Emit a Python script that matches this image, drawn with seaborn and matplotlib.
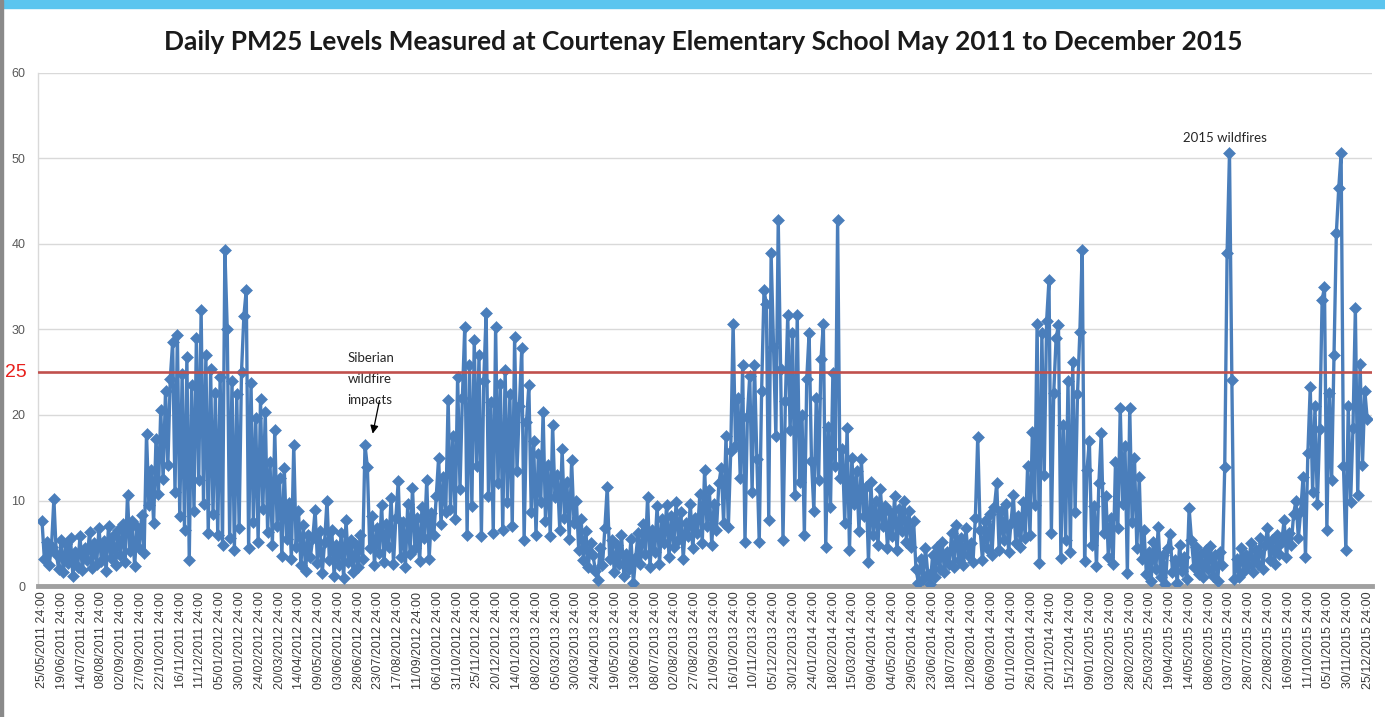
import numpy as np
import pandas as pd
import matplotlib
matplotlib.use("Agg")
import matplotlib.pyplot as plt
from matplotlib.patches import Rectangle
import seaborn as sns

# Daily PM2.5 readings (ug/m3), one reading every third day starting 25/05/2011
first_day = "2011-05-25"
step_days = 3

pm25_2011 = [
    7.6, 3.1, 5.2, 2.4, 4.6, 10.2, 3.8, 2.0, 5.4, 1.6,
    4.9, 2.7, 5.6, 1.2, 4.0, 2.2, 5.8, 1.9, 4.4, 3.0,
    6.3, 2.1, 5.0, 2.6, 6.8, 2.9, 5.3, 1.8, 7.0, 3.3,
    5.9, 2.4, 6.5, 3.6, 7.2, 2.8, 10.6, 4.1, 7.6, 2.3,
    6.9, 4.5, 8.3, 3.9, 17.8, 9.5, 13.6, 7.4, 17.2, 10.8,
    20.6, 12.5, 22.8, 14.1, 24.2, 28.5, 11.0, 29.3, 8.2, 24.8,
    6.5, 26.8, 3.0, 23.5, 8.8, 29.0, 12.4, 32.3, 9.6, 27.0,
    6.2, 25.4, 8.4, 22.6,
]
pm25_2012 = [
    6.0, 24.5, 4.8, 39.3, 30.0, 5.6, 24.0, 4.2, 22.5, 6.8,
    25.0, 31.6, 34.6, 4.4, 23.8, 7.5, 19.6, 5.2, 21.9, 9.0,
    20.4, 6.3, 14.5, 4.8, 18.2, 7.0, 12.6, 3.5, 13.8, 5.5,
    9.7, 3.2, 16.5, 4.6, 8.8, 2.4, 7.1, 1.8, 6.0, 3.4,
    5.6, 8.9, 2.7, 6.4, 1.5, 5.2, 10.0, 3.0, 6.6, 1.2,
    4.8, 2.5, 6.2, 0.9, 7.7, 2.8, 5.4, 1.6, 4.9, 2.2,
    6.0, 3.1, 16.5, 13.9, 4.4, 8.2, 2.5, 6.8, 3.9, 9.5,
    2.8, 7.2, 4.6, 10.3, 2.6, 8.0, 12.3, 3.4, 7.5, 2.2,
    9.6, 3.8, 11.5, 4.5, 7.9, 2.9, 9.2, 5.6, 12.4, 3.1,
    8.5, 6.0, 10.5, 15.0, 7.2, 12.8, 8.6, 21.8, 9.0, 17.5,
    7.8, 24.5, 11.4, 22.0, 30.3, 6.0, 25.8, 9.4, 28.8, 14.0,
    27.0, 5.8, 24.0, 31.9, 10.5, 21.5, 6.2, 30.3, 12.0, 23.6,
    6.5, 25.3,
]
pm25_2013 = [
    9.8, 22.4, 7.0, 29.1, 13.5, 21.0, 27.8, 5.4, 19.2, 23.5,
    8.6, 17.0, 6.0, 15.4, 9.8, 20.4, 7.6, 14.2, 5.8, 18.8,
    10.4, 13.0, 6.6, 16.0, 8.0, 12.2, 5.5, 14.7, 7.4, 10.0,
    4.2, 7.8, 3.0, 6.4, 2.2, 5.0, 3.6, 1.8, 0.7, 4.5,
    2.4, 6.8, 11.6, 3.2, 5.4, 1.6, 4.8, 2.6, 6.0, 1.2,
    3.8, 2.0, 5.5, 0.3, 3.4, 6.2, 2.6, 7.2, 3.8, 10.4,
    2.2, 6.6, 4.0, 9.4, 2.6, 7.8, 5.0, 9.5, 3.4, 8.2,
    4.6, 9.8, 5.4, 8.6, 3.2, 7.4, 5.8, 9.6, 4.4, 8.0,
    6.2, 10.8, 5.0, 13.6, 7.0, 11.2, 4.8, 9.6, 6.6, 12.0,
    13.8, 7.4, 17.5, 6.9, 15.8, 30.7, 16.4, 22.0, 12.6, 25.8,
    5.1, 19.8, 24.6, 11.0, 25.9, 14.8, 5.1, 22.8, 34.6, 33.0,
    7.7, 38.9, 28.0, 17.5, 42.8, 25.4, 5.4, 21.6, 31.7, 18.2,
    29.6, 10.6,
]
pm25_2014 = [
    31.7, 12.2, 20.0, 6.0, 24.2, 29.6, 14.6, 8.8, 22.0, 12.4,
    26.5, 30.7, 4.6, 18.6, 9.2, 24.9, 14.0, 42.8, 12.6, 16.0,
    7.4, 18.5, 4.2, 15.0, 9.6, 13.4, 6.4, 14.8, 8.2, 11.6,
    2.8, 12.2, 6.0, 10.0, 4.8, 11.4, 7.0, 9.4, 4.4, 8.6,
    5.8, 10.5, 4.2, 9.0, 6.4, 10.0, 5.2, 8.8, 4.6, 7.6,
    2.0, 0.4, 3.2, 0.8, 4.4, 1.4, 0.2, 3.6, 1.0, 4.6,
    2.0, 5.2, 1.6, 4.0, 2.6, 6.2, 2.2, 7.1, 3.0, 5.6,
    2.4, 6.8, 3.6, 5.0, 2.8, 8.0, 17.4, 6.6, 3.0, 7.6,
    4.4, 8.4, 3.6, 9.2, 12.0, 4.2, 8.8, 5.4, 9.6, 4.0,
    7.4, 10.6, 5.0, 8.2, 4.6, 9.8, 5.6, 14.0, 6.0, 18.0,
    9.5, 30.7, 2.7, 29.6, 13.0, 31.0, 35.8, 6.2, 22.6, 29.0,
    30.5, 3.3, 18.8, 5.4, 24.0, 4.0, 26.2, 8.6, 22.4, 29.7,
    39.3,
]
pm25_2015 = [
    2.9, 13.6, 17.0, 4.8, 9.4, 2.3, 12.0, 17.9, 6.2, 10.5,
    3.4, 8.0, 2.6, 14.5, 6.8, 20.8, 9.6, 16.4, 1.5, 20.8,
    7.5, 15.0, 4.4, 12.8, 3.2, 6.6, 1.4, 4.0, 0.6, 5.2,
    2.0, 6.9, 1.0, 3.6, 0.2, 4.4, 6.1, 1.6, 3.0, 0.4,
    4.8, 1.8, 3.4, 0.8, 9.1, 5.4, 2.2, 4.6, 1.4, 3.8,
    1.0, 4.2, 2.0, 4.7, 1.2, 3.6, 0.6, 4.0, 2.4, 13.9,
    39.0, 50.6, 24.1, 0.8, 3.2, 1.0, 4.4, 1.8, 3.6, 2.4,
    5.0, 1.6, 4.2, 2.6, 5.6, 2.0, 4.8, 6.8, 3.0, 5.4,
    2.6, 6.0, 3.8, 5.2, 7.7, 3.4, 6.2, 4.8, 8.4, 10.0,
    5.6, 8.8, 12.8, 3.4, 15.5, 23.3, 11.0, 21.0, 9.6, 18.4,
    33.4, 35.0, 6.5, 22.6, 12.4, 27.0, 41.3, 46.5, 50.6, 14.0,
    4.2, 21.0, 9.8, 18.5, 32.5, 10.6, 26.0, 14.2, 22.8, 19.5,
]

objective_level = 25
tick_every_days = 25
last_tick = "2015-12-25"
y_ticks = [0, 10, 20, 30, 40, 50, 60]

title = ("Daily PM25 Levels Measured at Courtenay Elementary School "
         "May 2011 to December 2015")
siberian_note = "Siberian\nwildfire\nimpacts"
wildfire_note = "2015 wildfires"

# ---------------------------------------------------------------- data frame
values = pm25_2011 + pm25_2012 + pm25_2013 + pm25_2014 + pm25_2015
start = pd.Timestamp(first_day)
dates = start + pd.to_timedelta(np.arange(len(values)) * step_days, unit="D")
df = pd.DataFrame({"date": dates, "pm25": values})

# ---------------------------------------------------------------- styling
sns.set_theme(style="white")
plt.rcParams["font.family"] = ["Lato", "DejaVu Sans"]

blue = "#4a7ebb"
fig = plt.figure(figsize=(13.85, 7.17), dpi=100)
ax = fig.add_axes([0.02747, 0.1827, 0.96313, 0.7155])

sns.lineplot(data=df, x="date", y="pm25", ax=ax, color=blue,
             linewidth=2.4, marker="D", markersize=6.2,
             markeredgecolor=blue, markeredgewidth=0.4,
             estimator=None, sort=False, zorder=3)

ax.axhline(objective_level, color="#c0504d", linewidth=1.9, zorder=5)
ax.text(-0.0085, objective_level, str(objective_level),
        transform=ax.get_yaxis_transform(), ha="right", va="center",
        color="#e8201c", fontsize=14, family=["Liberation Sans", "DejaVu Sans"])

# axes, grid and ticks
ax.set_ylim(0, 60)
ax.set_yticks(y_ticks)
ax.yaxis.grid(True, color="#d9d9d9", linewidth=1.0)
ax.xaxis.grid(False)
ax.set_axisbelow(True)

tick_dates = pd.date_range(first_day, last_tick, freq=f"{tick_every_days}D")
ax.set_xticks(list(tick_dates.to_pydatetime()))
ax.set_xticklabels([d.strftime("%d/%m/%Y") + " 24:00" for d in tick_dates],
                   rotation=90, fontsize=9.0, color="#3a3a3a",
                   family=["Liberation Sans", "DejaVu Sans"])
ax.set_xlim(start - pd.Timedelta(days=5), pd.Timestamp(last_tick) + pd.Timedelta(days=5))
ax.tick_params(axis="x", length=0, pad=4)
ax.tick_params(axis="y", length=0, pad=9, labelsize=9, labelcolor="#595959")
for lab in ax.get_yticklabels():
    lab.set_family(["Liberation Sans", "DejaVu Sans"])
ax.set_xlabel("")
ax.set_ylabel("")

for side in ("top", "right"):
    ax.spines[side].set_visible(False)
ax.spines["left"].set_color("#d9d9d9")
ax.spines["left"].set_linewidth(1.0)
ax.spines["bottom"].set_color("#a0a0a0")
ax.spines["bottom"].set_linewidth(3.5)

# annotations
ax.text(pd.Timestamp("2012-06-14"), 27.4, siberian_note, ha="left", va="top",
        fontsize=9.5, color="#262626", linespacing=1.9)
ax.annotate("", xy=(pd.Timestamp("2012-07-15"), 17.5),
            xytext=(pd.Timestamp("2012-07-25"), 22.0),
            arrowprops=dict(arrowstyle="-|>", color="black", lw=0.9,
                            mutation_scale=12))
ax.text(pd.Timestamp("2015-06-27"), 52.4, wildfire_note, ha="center",
        va="center", fontsize=9.5, color="#262626")

# title and frame
fig.text(0.5076, 0.9414, title, ha="center", va="center",
         fontsize=18.9, fontweight="bold", color="#1a1a1a")
fig.add_artist(Rectangle((0, 1 - 8 / 717), 1, 8 / 717, transform=fig.transFigure,
                         color="#5bc5ef", zorder=10))
fig.add_artist(Rectangle((0, 0), 3 / 1385, 1, transform=fig.transFigure,
                         color="#8a8a8a", zorder=10))

fig.savefig("out.png", dpi=100, facecolor="white")
